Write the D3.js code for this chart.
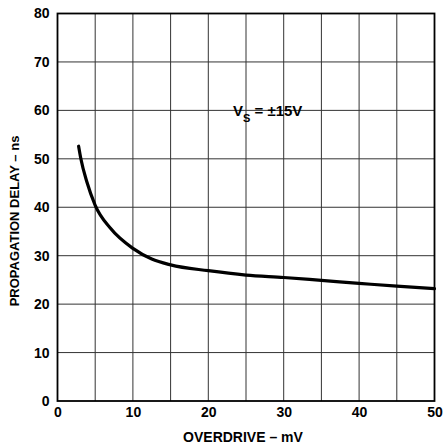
<!DOCTYPE html>
<html><head><meta charset="utf-8">
<script src="https://cdn.jsdelivr.net/npm/d3@7"></script>
<style>
html,body{margin:0;padding:0;background:#fff;}
text{font-family:"Liberation Sans",Arial,Helvetica,sans-serif;font-weight:bold;fill:#000;}
</style></head>
<body>
<svg id="chart" width="443" height="444"></svg>
<script>
// Data
const overdrive = [2.8, 3.1, 3.9, 5, 7, 10, 12.5, 15, 20, 25, 30, 35, 40, 45, 50];
const delay     = [52.6, 50, 45.2, 40.4, 35.7, 31.5, 29.3, 28.1, 26.9, 26.0, 25.5, 24.9, 24.3, 23.7, 23.2];
const xTicks = [0, 10, 20, 30, 40, 50];
const xGrid  = [5, 10, 15, 20, 25, 30, 35, 40, 45];
const yTicks = [0, 10, 20, 30, 40, 50, 60, 70, 80];

const svg = d3.select("#chart");
const m = {left: 57.5, right: 8.5, top: 13.5, bottom: 43};
const W = 443, H = 444;
const x = d3.scaleLinear().domain([0, 50]).range([m.left, W - m.right]);
const y = d3.scaleLinear().domain([0, 80]).range([H - m.bottom, m.top]);

// grid
svg.append("g").selectAll("line").data(xGrid).join("line")
  .attr("x1", d => x(d)).attr("x2", d => x(d))
  .attr("y1", y(0)).attr("y2", y(80))
  .attr("stroke", "#333").attr("stroke-width", 1);
svg.append("g").selectAll("line").data(yTicks.slice(1, -1)).join("line")
  .attr("x1", x(0)).attr("x2", x(50))
  .attr("y1", d => y(d)).attr("y2", d => y(d))
  .attr("stroke", "#333").attr("stroke-width", 1);

// frame
svg.append("rect").attr("x", x(0)).attr("y", y(80))
  .attr("width", x(50) - x(0)).attr("height", y(0) - y(80))
  .attr("fill", "none").attr("stroke", "#000").attr("stroke-width", 1.8);

// axes (labels only)
const xAxis = svg.append("g").attr("transform", `translate(0,${y(0)})`)
  .call(d3.axisBottom(x).tickValues(xTicks).tickSize(0).tickPadding(6));
xAxis.select(".domain").remove();
xAxis.selectAll("text").style("font-size", "14px").attr("dy", "0.71em");

const yAxis = svg.append("g").attr("transform", `translate(${x(0)},0)`)
  .call(d3.axisLeft(y).tickValues(yTicks).tickSize(0).tickPadding(8));
yAxis.select(".domain").remove();
yAxis.selectAll("text").style("font-size", "14px");

// curve
const line = d3.line().x((d, i) => x(overdrive[i])).y(d => y(d)).curve(d3.curveMonotoneX);
svg.append("path").datum(delay).attr("d", line)
  .attr("fill", "none").attr("stroke", "#000").attr("stroke-width", 3.2).attr("stroke-linecap", "round");

// titles
svg.append("text").attr("x", 243).attr("y", 442).attr("text-anchor", "middle")
  .style("font-size", "14px").text("OVERDRIVE – mV");
svg.append("text").attr("transform", "translate(19,221) rotate(-90)").attr("text-anchor", "middle")
  .style("font-size", "13px").text("PROPAGATION DELAY – ns");

// annotation
const ann = svg.append("text").attr("x", 233).attr("y", 116).style("font-size", "15px");
ann.append("tspan").text("V");
ann.append("tspan").attr("dy", 6).style("font-size", "11px").text("S");
ann.append("tspan").attr("dy", -6).text(" = ±15V");
</script>
</body></html>
